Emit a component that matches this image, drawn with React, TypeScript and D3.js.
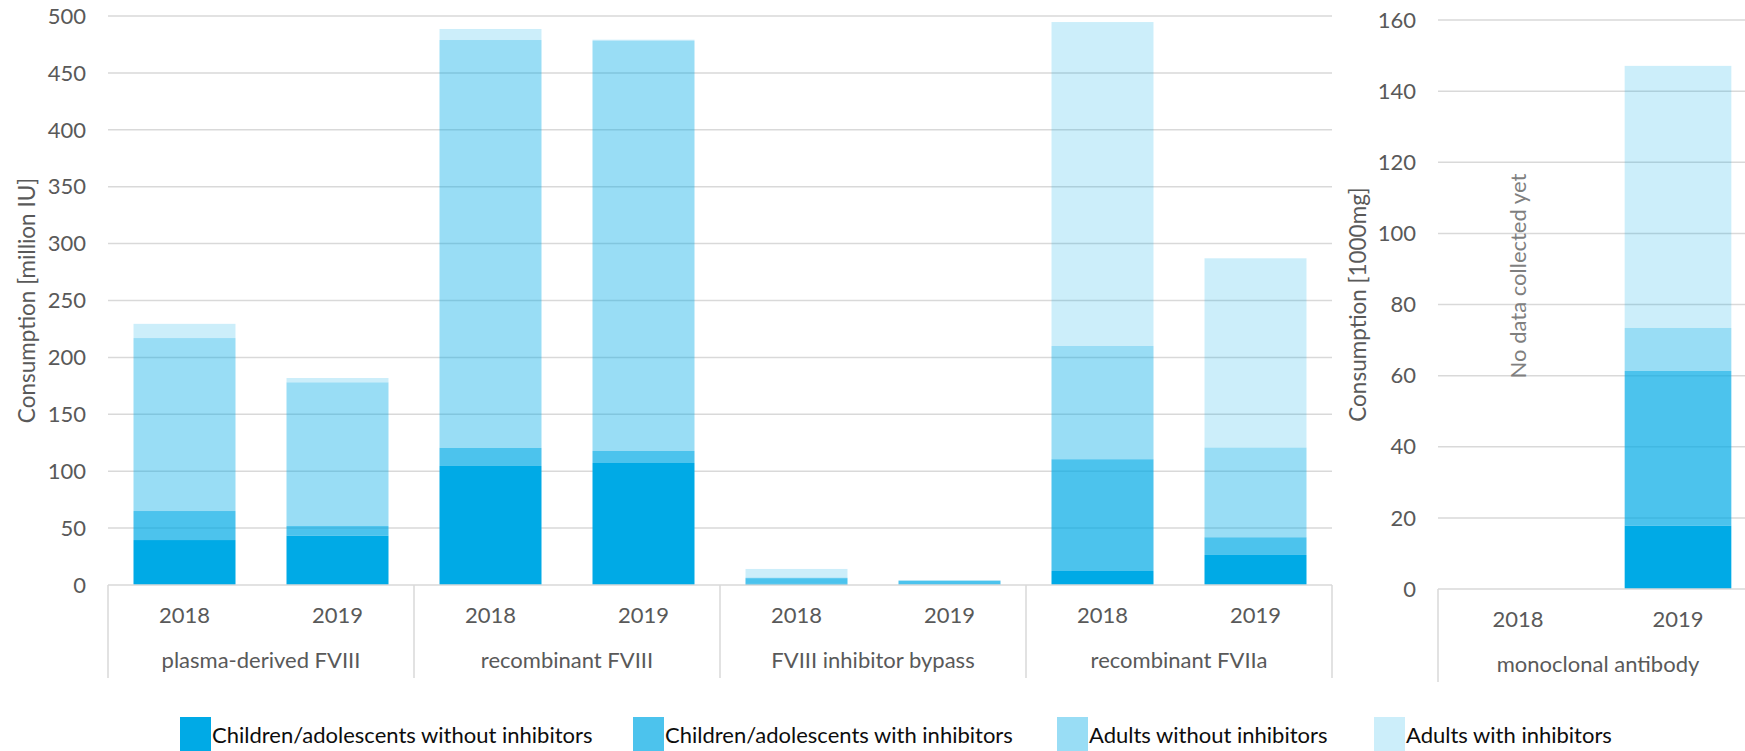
import React from "react";
import * as d3 from "d3";

// Product groups on the left axis (million IU) and the two survey years
const groups = ["plasma-derived FVIII", "recombinant FVIII", "FVIII inhibitor bypass", "recombinant FVIIa"];
const years = ["2018", "2019"];

// Stacked series, one value per group/year pair (group-major order)
const childrenWithout = [39.5, 43.3, 104.6, 107.2, 1.0, 0.5, 12.3, 26.4];
const childrenWith = [25.5, 8.5, 15.8, 10.6, 5.0, 3.2, 98.2, 15.5];
const adultsWithout = [152.0, 126.2, 358.5, 360.5, 0.5, 0.2, 99.5, 78.8];
const adultsWith = [12.5, 3.9, 9.7, 0.9, 7.6, 0.3, 284.7, 166.4];

// Monoclonal antibody panel (1000 mg); 2018 was not collected
const mabGroup = "monoclonal antibody";
const mabChildrenWithout = [0, 17.8];
const mabChildrenWith = [0, 43.5];
const mabAdultsWithout = [0, 12.1];
const mabAdultsWith = [0, 73.7];

const seriesNames = [
  "Children/adolescents without inhibitors",
  "Children/adolescents with inhibitors",
  "Adults without inhibitors",
  "Adults with inhibitors",
];

const leftTicks = [0, 50, 100, 150, 200, 250, 300, 350, 400, 450, 500];
const rightTicks = [0, 20, 40, 60, 80, 100, 120, 140, 160];

const BASE = "#00AAE6";
const OPACITY = [1, 0.7, 0.4, 0.2];
const GRID = "#D9D9D9";
const TEXT = "#595959";
const FONT = "Lato, 'Open Sans', sans-serif";

type Row = { key: string; year: string; values: number[] };

function buildRows(groupNames: string[], cols: number[][]): Row[] {
  const rows: Row[] = [];
  groupNames.forEach((g, gi) => {
    years.forEach((y, yi) => {
      const i = gi * years.length + yi;
      rows.push({ key: `${g}|${y}`, year: y, values: cols.map((c) => c[i]) });
    });
  });
  return rows;
}

const leftRows = buildRows(groups, [childrenWithout, childrenWith, adultsWithout, adultsWith]);
const rightRows = buildRows([mabGroup], [mabChildrenWithout, mabChildrenWith, mabAdultsWithout, mabAdultsWith]);

const stackGen = d3
  .stack<Row, number>()
  .keys([0, 1, 2, 3])
  .value((d, k) => d.values[k] || 0);

function Panel({
  rows,
  groupNames,
  ticks,
  yMax,
  x0,
  x1,
  yTop,
  yBottom,
  gridEnd,
  title,
  titleX,
  tickLabelX,
  note,
}: {
  rows: Row[];
  groupNames: string[];
  ticks: number[];
  yMax: number;
  x0: number;
  x1: number;
  yTop: number;
  yBottom: number;
  gridEnd: number;
  title: string;
  titleX: number;
  tickLabelX: number;
  note?: string;
}) {
  const x = d3
    .scaleBand<string>()
    .domain(rows.map((r) => r.key))
    .range([x0, x1])
    .paddingInner(1 / 3)
    .paddingOuter(1 / 6);
  const y = d3.scaleLinear().domain([0, yMax]).range([yBottom, yTop]);
  const stacked = stackGen(rows);
  const step = x.step();
  const perGroup = years.length;
  const sepBottom = yBottom + 93;

  return (
    <g>
      {/* gridlines */}
      {ticks
        .filter((t) => t > 0)
        .map((t) => (
          <line key={t} x1={x0} x2={gridEnd} y1={y(t)} y2={y(t)} stroke={GRID} strokeWidth={1.5} />
        ))}
      {/* tick labels */}
      {ticks.map((t) => (
        <text
          key={`l${t}`}
          x={tickLabelX}
          y={y(t)}
          dy="0.35em"
          textAnchor="end"
          fontSize={22}
          fill={TEXT}
          fontFamily={FONT}
        >
          {t}
        </text>
      ))}
      {/* stacked bars */}
      {stacked.map((layer, li) =>
        layer.map((seg, i) => {
          const h = y(seg[0]) - y(seg[1]);
          if (h <= 0) return null;
          return (
            <rect
              key={`${li}-${i}`}
              x={x(rows[i].key)}
              width={x.bandwidth()}
              y={y(seg[1])}
              height={h}
              fill={BASE}
              fillOpacity={OPACITY[li]}
            />
          );
        })
      )}
      {/* category axis */}
      <line x1={x0} x2={gridEnd} y1={yBottom} y2={yBottom} stroke={GRID} strokeWidth={1.5} />
      {d3.range(groupNames.length + 1).map((gi) => (
        <line
          key={`s${gi}`}
          x1={x0 + gi * step * perGroup}
          x2={x0 + gi * step * perGroup}
          y1={yBottom}
          y2={sepBottom}
          stroke={GRID}
          strokeWidth={1.5}
        />
      ))}
      {rows.map((r) => (
        <text
          key={`y${r.key}`}
          x={(x(r.key) as number) + x.bandwidth() / 2}
          y={yBottom + 38}
          textAnchor="middle"
          fontSize={22}
          fill={TEXT}
          fontFamily={FONT}
        >
          {r.year}
        </text>
      ))}
      {groupNames.map((g, gi) => (
        <text
          key={`g${gi}`}
          x={x0 + (gi + 0.5) * step * perGroup}
          y={yBottom + 83}
          textAnchor="middle"
          fontSize={22}
          fill={TEXT}
          fontFamily={FONT}
        >
          {g}
        </text>
      ))}
      {/* axis title */}
      <text
        transform={`translate(${titleX},${(yTop + yBottom) / 2}) rotate(-90)`}
        textAnchor="middle"
        dy="0.35em"
        fontSize={22.5}
        fill={TEXT}
        fontFamily={FONT}
      >
        {title}
      </text>
      {note && (
        <text
          transform={`translate(${(x(rows[0].key) as number) + x.bandwidth() / 2},${y(88)}) rotate(-90)`}
          textAnchor="middle"
          dy="0.35em"
          fontSize={22}
          fill="#7F7F7F"
          fontFamily={FONT}
        >
          {note}
        </text>
      )}
    </g>
  );
}

const legendX = [180, 633, 1057, 1374];

export default function App() {
  return (
    <div style={{ position: "absolute", left: 0, top: 0 }}>
      <svg width={1745} height={751} style={{ display: "block", background: "#fff" }}>
        <Panel
          rows={leftRows}
          groupNames={groups}
          ticks={leftTicks}
          yMax={500}
          x0={108}
          x1={1332}
          yTop={16}
          yBottom={585}
          gridEnd={1332}
          title="Consumption [million IU]"
          titleX={27}
          tickLabelX={86}
        />
        <Panel
          rows={rightRows}
          groupNames={[mabGroup]}
          ticks={rightTicks}
          yMax={160}
          x0={1438}
          x1={1758}
          yTop={20}
          yBottom={589}
          gridEnd={1758}
          title="Consumption [1000mg]"
          titleX={1358}
          tickLabelX={1416}
          note="No data collected yet"
        />
        {/* legend */}
        {seriesNames.map((s, i) => (
          <g key={s}>
            <rect x={legendX[i]} y={717} width={31} height={34} fill={BASE} fillOpacity={OPACITY[i]} />
            <text x={legendX[i] + 32} y={743} fontSize={22} fill="#0D0D0D" fontFamily={FONT}>
              {s}
            </text>
          </g>
        ))}
      </svg>
    </div>
  );
}
